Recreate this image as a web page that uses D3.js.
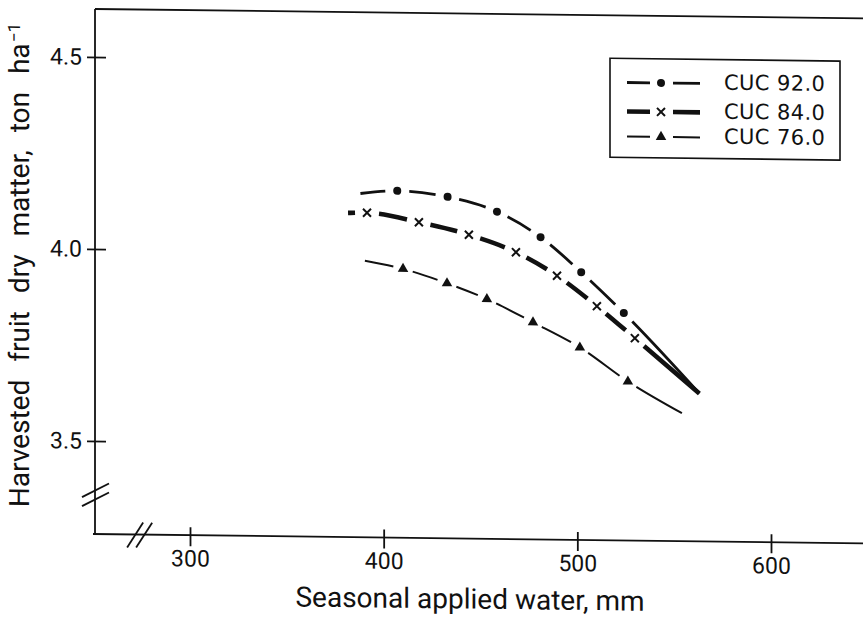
<!DOCTYPE html>
<html>
<head>
<meta charset="utf-8">
<script src="https://cdn.jsdelivr.net/npm/d3@7"></script>
<style>
  body { margin: 0; background: #fff; }
  svg text { fill: #111; }
</style>
</head>
<body>
<svg id="chart" width="863" height="619"></svg>
<script>
// Courbes : premier et dernier point = extrémités du tracé, les autres = marqueurs
const water92 = [388, 407, 433, 458.5, 481, 502, 524, 563];
const dm92 = [4.153, 4.161, 4.147, 4.110, 4.045, 3.955, 3.850, 3.643];

const water84 = [381.6, 391.4, 418.2, 444.0, 468.3, 489.5, 510.1, 529.7, 563];
const dm84 = [4.102, 4.103, 4.080, 4.049, 4.005, 3.945, 3.867, 3.785, 3.643];

const water76 = [390.3, 410.0, 432.7, 453.3, 477.1, 501.3, 526.1, 554.0];
const dm76 = [3.978, 3.958, 3.922, 3.882, 3.823, 3.759, 3.672, 3.591];

const seriesNames = ["CUC 92.0", "CUC 84.0", "CUC 76.0"];
const xTicks = [300, 400, 500, 600];
const yTicks = [3.5, 4.0, 4.5];

const SVG = d3.select("#chart");

// le scan est légèrement incliné : on reproduit ce biais
const SKEW = 0.7;
const T = Math.tan(SKEW * Math.PI / 180);
const root = SVG.append("g")
  .attr("transform", `translate(0,${-95 * T}) skewY(${SKEW})`);

const X = d3.scaleLinear().domain([300, 600]).range([190, 771]);
const Y = d3.scaleLinear().domain([3.5, 4.5]).range([441, 57]);

const AXIS_X = 95, AXIS_Y = 534, TOP_Y = 9, RIGHT_X = 863;
const INK = "#111";

// cadre : axe gauche, axe bas, bord supérieur
root.append("line").attr("x1", AXIS_X).attr("x2", AXIS_X).attr("y1", TOP_Y).attr("y2", AXIS_Y)
  .attr("stroke", INK).attr("stroke-width", 1.8);
root.append("line").attr("x1", 93).attr("x2", RIGHT_X).attr("y1", AXIS_Y).attr("y2", AXIS_Y)
  .attr("stroke", INK).attr("stroke-width", 1.8);
root.append("line").attr("x1", AXIS_X).attr("x2", RIGHT_X).attr("y1", TOP_Y).attr("y2", TOP_Y)
  .attr("stroke", INK).attr("stroke-width", 1.8);

// axes
const yAxis = root.append("g")
  .attr("transform", `translate(${AXIS_X},0)`)
  .call(d3.axisLeft(Y).tickValues(yTicks).tickSize(8).tickPadding(5).tickFormat(d3.format(".1f")));
yAxis.select(".domain").remove();
yAxis.selectAll(".tick line").attr("x1", 11).attr("stroke", INK).attr("stroke-width", 1.8);
yAxis.selectAll("text").attr("font-family", "Roboto").attr("font-size", 23).attr("fill", INK);

const xAxis = root.append("g")
  .attr("transform", `translate(0,${AXIS_Y})`)
  .call(d3.axisBottom(X).tickValues(xTicks).tickSize(11).tickPadding(4));
xAxis.select(".domain").remove();
xAxis.selectAll(".tick line").attr("y1", -8).attr("stroke", INK).attr("stroke-width", 1.8);
xAxis.selectAll("text").attr("font-family", "Roboto").attr("font-size", 23).attr("fill", INK);

// coupures d'axes
const Y_BREAK = 3.36, X_BREAK = 274;
[-4.5, 4.5].forEach(o => {
  const yb = Y(Y_BREAK) + o;
  root.append("line").attr("x1", 82).attr("y1", yb + 7).attr("x2", 109).attr("y2", yb - 7)
    .attr("stroke", INK).attr("stroke-width", 1.8);
  const xb = X(X_BREAK) + o;
  root.append("line").attr("x1", xb - 8).attr("y1", AXIS_Y + 13).attr("x2", xb + 8).attr("y2", AXIS_Y - 12)
    .attr("stroke", INK).attr("stroke-width", 1.8);
});

// marqueurs
function drawMarker(g, kind, cx, cy) {
  if (kind === "dot") {
    g.append("circle").attr("cx", cx).attr("cy", cy).attr("r", 4).attr("fill", INK);
  } else if (kind === "cross") {
    const s = 4;
    g.append("path").attr("d", `M${cx - s},${cy - s}L${cx + s},${cy + s}M${cx - s},${cy + s}L${cx + s},${cy - s}`)
      .attr("stroke", INK).attr("stroke-width", 2).attr("fill", "none");
  } else {
    g.append("path").attr("d", d3.symbol(d3.symbolTriangle, 48)())
      .attr("transform", `translate(${cx},${cy})`).attr("fill", INK);
  }
}

const LINE = d3.line().x(d => X(d[0])).y(d => Y(d[1])).curve(d3.curveMonotoneX);

const SERIES = [
  { w: water92, v: dm92, kind: "dot", width: 2.8, gap: 12 },
  { w: water84, v: dm84, kind: "cross", width: 4.6, gap: 12 },
  { w: water76, v: dm76, kind: "tri", width: 2.0, gap: 10 }
];

SERIES.forEach(s => {
  const pts = s.w.map((w, i) => [w, s.v[i]]);
  const path = root.append("path").datum(pts)
    .attr("d", LINE).attr("fill", "none").attr("stroke", INK)
    .attr("stroke-width", s.width).attr("stroke-linecap", "butt");

  // trous du tireté centrés sur chaque marqueur
  const node = path.node();
  const total = node.getTotalLength();
  const samples = [];
  for (let l = 0; l <= total; l += 0.5) samples.push([l, node.getPointAtLength(l)]);
  const marks = pts.slice(1, -1);
  const lens = marks.map(p => {
    const px = X(p[0]), py = Y(p[1]);
    let best = 0, bd = Infinity;
    samples.forEach(([l, q]) => {
      const d = (q.x - px) ** 2 + (q.y - py) ** 2;
      if (d < bd) { bd = d; best = l; }
    });
    return best;
  });
  const dash = [];
  let pos = 0;
  lens.forEach(L => { dash.push(Math.max(0, L - s.gap - pos), 2 * s.gap); pos = L + s.gap; });
  dash.push(total - pos + 2, 2000);
  path.attr("stroke-dasharray", dash.join(","));

  marks.forEach(p => drawMarker(root, s.kind, X(p[0]), Y(p[1])));
});

// légende
const LEG = root.append("g");
LEG.append("rect").attr("x", 610).attr("y", 52).attr("width", 230).attr("height", 99)
  .attr("fill", "#fff").attr("stroke", INK).attr("stroke-width", 1.6);
const ROWS = [76, 105, 130];
SERIES.forEach((s, i) => {
  const ry = ROWS[i];
  [[627, 650], [673, 700]].forEach(([a, b]) => {
    LEG.append("line").attr("x1", a).attr("x2", b).attr("y1", ry).attr("y2", ry)
      .attr("stroke", INK).attr("stroke-width", s.width);
  });
  drawMarker(LEG, s.kind, 661, ry);
  LEG.append("text").attr("x", 724).attr("y", ry + 6)
    .attr("font-family", "DejaVu Sans").attr("font-size", 21)
    .attr("letter-spacing", 0.4)
    .text(seriesNames[i]);
});

// titres d'axes
root.append("text")
  .attr("x", 470).attr("y", 604)
  .attr("text-anchor", "middle")
  .attr("font-family", "Roboto").attr("font-size", 28)
  .text("Seasonal applied water, mm");

const yl = root.append("text")
  .attr("transform", "translate(29,266) rotate(-90)")
  .attr("text-anchor", "middle")
  .attr("font-family", "Roboto").attr("font-size", 28)
  .attr("word-spacing", 11);
yl.append("tspan").text("Harvested fruit dry matter, ton ha");
yl.append("tspan").attr("font-size", 17).attr("dy", -9).attr("dx", 1).text("−1");
</script>
</body>
</html>
